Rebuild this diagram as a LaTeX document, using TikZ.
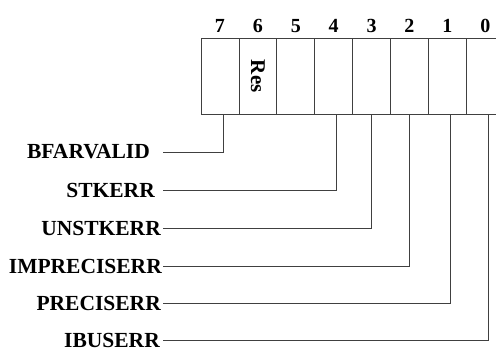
\documentclass[tikz,border=0pt]{standalone}
\usepackage{fontspec}
\setmainfont{Liberation Serif}
\usetikzlibrary{positioning}

\begin{document}
\begin{tikzpicture}[x=1pt, y=-1pt,
    cell/.style = {draw=black!75, line width=0.8pt, minimum width=37.9pt, minimum height=75.5pt, inner sep=0pt, outer sep=0pt, anchor=north west},
    bitno/.style = {font=\fontsize{20}{22}\selectfont\bfseries},
    fld/.style = {font=\fontsize{21.5}{24}\selectfont\bfseries, inner sep=0pt},
    tap/.style = {draw=black!75, line width=0.8pt}]
	\useasboundingbox (0,0) rectangle (496,349);
	% register cells and bit numbers
	\foreach \b [count=\i from 0] in {7,...,0} {
		\node[cell] (\b) at (201+37.9*\i, 38.5) {};
		\node[bitno, above=2.5pt of \b] {\b};
	}
	\node[font=\fontsize{21}{23}\selectfont\bfseries, rotate=-90] at (6) {Res};

	% field names
	\foreach \name/\txt/\b/\y/\dx/\gap in {bfar/BFARVALID/7/152/3/13pt, stk/STKERR/4/190/3/8pt, unstk/UNSTKERR/3/228/0/2pt, imp/IMPRECISERR/2/266/0/1pt, prec/PRECISERR/1/303/3/2pt, ibus/IBUSERR/0/340.5/3/3pt} {
		\coordinate (\name-in) at (163, \y);
		\coordinate (\name-up) at ([xshift=\dx pt]\b.south);
		\node[fld, left=\gap of \name-in] (\name) {\txt};
		\draw[tap] (\name-in) -| (\name-up);
	}
\end{tikzpicture}
\end{document}
